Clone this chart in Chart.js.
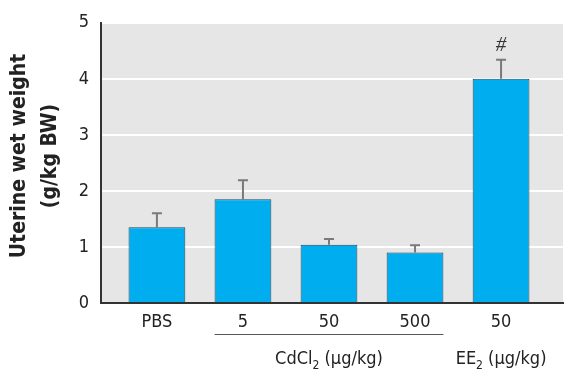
<!DOCTYPE html>
<html>
<head>
<meta charset="utf-8">
<script src="https://cdn.jsdelivr.net/npm/chart.js@4/dist/chart.umd.min.js"></script>
<style>
  html, body { margin: 0; padding: 0; background: #fff; }
  #wrap { width: 574px; height: 378px; }
</style>
</head>
<body>
<div id="wrap"><canvas id="uterineChart" width="574" height="378"></canvas></div>
<script>
const categories = ["PBS", "5", "50", "500", "50"];
const meanWeight = [1.35, 1.85, 1.04, 0.90, 4.0];
const errorUp = [0.25, 0.34, 0.10, 0.13, 0.34];
const markers = ["", "", "", "", "#"];
const groupLabels = [
  { first: 1, last: 3, base: "CdCl", sub: "2", unit: " (µg/kg)", underline: true },
  { first: 4, last: 4, base: "EE", sub: "2", unit: " (µg/kg)", underline: false }
];

const narrow = '"Liberation Sans Narrow", "DejaVu Sans Condensed", sans-serif';

// gray panel behind the bars
const panelBg = {
  id: "panelBg",
  beforeDraw(chart) {
    const { ctx, chartArea: a } = chart;
    ctx.save();
    ctx.fillStyle = "#e6e6e6";
    ctx.fillRect(a.left, a.top, a.right - a.left, a.bottom - a.top);
    ctx.restore();
  }
};

// error bars, "#" marker, group labels, y title
const extras = {
  id: "extras",
  afterDatasetsDraw(chart) {
    const { ctx, scales: { x, y } } = chart;
    ctx.save();
    ctx.strokeStyle = "#7a7a7a";
    ctx.lineWidth = 2;
    meanWeight.forEach((v, i) => {
      const px = x.getPixelForValue(i);
      const top = y.getPixelForValue(v + errorUp[i]);
      ctx.beginPath();
      ctx.moveTo(px, y.getPixelForValue(v));
      ctx.lineTo(px, top);
      ctx.moveTo(px - 5, top);
      ctx.lineTo(px + 5, top);
      ctx.stroke();
      if (markers[i]) {
        ctx.fillStyle = "#333";
        ctx.font = 'italic 21px "Liberation Serif", serif';
        ctx.textAlign = "center";
        ctx.textBaseline = "middle";
        ctx.fillText(markers[i], px, top - 14);
      }
    });
    ctx.restore();
  },
  afterDraw(chart) {
    const { ctx, scales: { x } } = chart;
    const meta = chart.getDatasetMeta(0);
    ctx.save();
    ctx.fillStyle = "#222";
    groupLabels.forEach(g => {
      const l = meta.data[g.first].x - meta.data[g.first].width / 2;
      const r = meta.data[g.last].x + meta.data[g.last].width / 2;
      if (g.underline) {
        ctx.strokeStyle = "#555";
        ctx.lineWidth = 1;
        ctx.beginPath();
        ctx.moveTo(l, 334.5);
        ctx.lineTo(r, 334.5);
        ctx.stroke();
      }
      const cx = (x.getPixelForValue(g.first) + x.getPixelForValue(g.last)) / 2;
      const big = "18px " + narrow;
      const small = "12px " + narrow;
      ctx.font = big;
      const w1 = ctx.measureText(g.base).width;
      const w3 = ctx.measureText(g.unit).width;
      ctx.font = small;
      const w2 = ctx.measureText(g.sub).width;
      let sx = cx - (w1 + w2 + w3) / 2;
      const by = 364;
      ctx.textAlign = "left";
      ctx.textBaseline = "alphabetic";
      ctx.font = big;
      ctx.fillText(g.base, sx, by);
      sx += w1;
      ctx.font = small;
      ctx.fillText(g.sub, sx, by + 5);
      sx += w2;
      ctx.font = big;
      ctx.fillText(g.unit, sx, by);
    });
    // y axis title, two lines rotated
    ctx.font = "bold 21px " + narrow;
    ctx.textAlign = "center";
    ctx.textBaseline = "middle";
    ctx.fillStyle = "#222";
    ctx.translate(0, 156);
    ctx.rotate(-Math.PI / 2);
    ctx.fillText("Uterine wet weight", 0, 20);
    ctx.fillText("(g/kg BW)", 0, 51);
    ctx.restore();
  }
};

new Chart(document.getElementById("uterineChart"), {
  type: "bar",
  data: {
    datasets: [{
      data: meanWeight.map((v, i) => ({ x: i, y: v })),
      backgroundColor: "#00aeef",
      borderColor: "#1d4a5c",
      borderWidth: 1,
      barPercentage: 0.66,
      categoryPercentage: 1
    }]
  },
  options: {
    responsive: false,
    animation: false,
    layout: { padding: { top: 14, right: 11, left: 0, bottom: 0 } },
    plugins: { legend: { display: false }, tooltip: { enabled: false } },
    scales: {
      x: {
        type: "linear",
        min: -0.65,
        max: 4.72,
        offset: false,
        afterBuildTicks: s => { s.ticks = categories.map((_, i) => ({ value: i })); },
        afterFit: s => { s.height = 75; },
        ticks: {
          autoSkip: false,
          maxRotation: 0,
          padding: 9,
          color: "#222",
          font: { family: narrow, size: 18 },
          callback: v => categories[v]
        },
        grid: { display: false, drawTicks: false },
        border: { color: "#333", width: 2 }
      },
      y: {
        min: 0,
        max: 5,
        afterFit: s => { s.width = 101; },
        ticks: {
          stepSize: 1,
          padding: 12,
          color: "#222",
          font: { family: narrow, size: 18 }
        },
        grid: { color: "#ffffff", lineWidth: 2, drawTicks: false },
        border: { color: "#333", width: 2 }
      }
    }
  },
  plugins: [panelBg, extras]
});
</script>
</body>
</html>
